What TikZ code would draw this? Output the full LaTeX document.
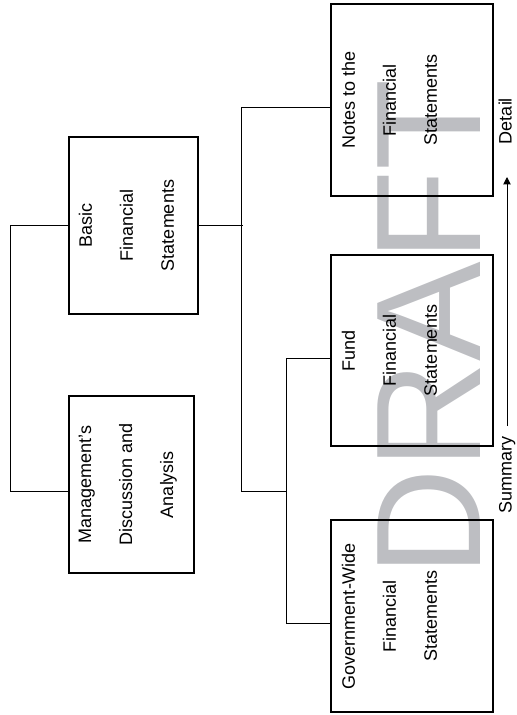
\documentclass[tikz,border=0pt]{standalone}
\usepackage{fontspec}
\setmainfont{Liberation Sans}
\usetikzlibrary{calc,arrows.meta}
\definecolor{draftgray}{RGB}{189,190,194}
\tikzset{every picture/.style={line width=0.75pt}}
\tikzset{
	box/.style={draw, line width=1pt, inner sep=0pt},
	boxtext/.style={rotate=90, anchor=north, align=center, inner sep=0pt, font=\fontsize{13.5}{30.75}\selectfont},
	sidelabel/.style={rotate=90, anchor=base, inner sep=0pt, font=\fontsize{13.5}{16}\selectfont},
	watermark/.style={rotate=90, anchor=base, inner sep=0pt, text=draftgray, font=\fontsize{112}{112}\selectfont}
}

\begin{document}
\begin{tikzpicture}[x=0.75pt,y=0.75pt,yscale=-1,xscale=1]
	\useasboundingbox (0,0) rectangle (517,715);

	%Text: watermark
	\node[watermark] (draft) at (480,328) {DRAFT};

	%Shape: Rectangle
	\node[box, minimum width=96.75pt, minimum height=132.75pt] (basic) at (133.5,225.5) {};
	\node[boxtext] (basictext) at ($(basic.west)+(10,0)$) {Basic\\Financial\\Statements};
	%Shape: Rectangle
	\node[box, minimum width=93.75pt, minimum height=132.75pt] (mgmt) at (131.5,484.5) {};
	\node[boxtext] (mgmttext) at ($(mgmt.west)+(10,0)$) {Management's\\Discussion and\\Analysis};
	%Shape: Rectangle
	\node[box, minimum width=121.5pt, minimum height=144pt] (notes) at (412,100) {};
	\node[boxtext] (notestext) at ($(notes.west)+(11,0)$) {Notes to the\\Financial\\Statements};
	%Shape: Rectangle
	\node[box, minimum width=121.5pt, minimum height=143.25pt] (fund) at (412,350.5) {};
	\node[boxtext] (fundtext) at ($(fund.west)+(11,0)$) {Fund\\Financial\\Statements};
	%Shape: Rectangle
	\node[box, minimum width=121.5pt, minimum height=144pt] (gov) at (412,616) {};
	\node[boxtext] (govtext) at ($(gov.west)+(11,0)$) {Government-Wide\\Financial\\Statements};

	%Straight Lines
	\draw (basic.west) -- ++(-58,0) |- ($(mgmt.west)+(0,6.5)$);
	\draw (basic.east) -- ++(44,0);
	\draw ($(notes.west)+(0,7)$) -| ++(-89,384) -- ++(45,0) coordinate (fundjoin);
	\draw ($(fund.west)+(0,7.5)$) -| (fundjoin) |- ($(gov.west)+(0,7)$);

	%Straight Lines
	\coordinate (sumend) at (507,426);
	\coordinate (detend) at (507,177);
	\draw [-{Triangle[length=5.5pt,width=5.5pt]}] (sumend) -- (detend);
	\node[sidelabel] (summary) at (511.5,475) {Summary};
	\node[sidelabel] (detail) at (511.5,121) {Detail};

\end{tikzpicture}
\end{document}
